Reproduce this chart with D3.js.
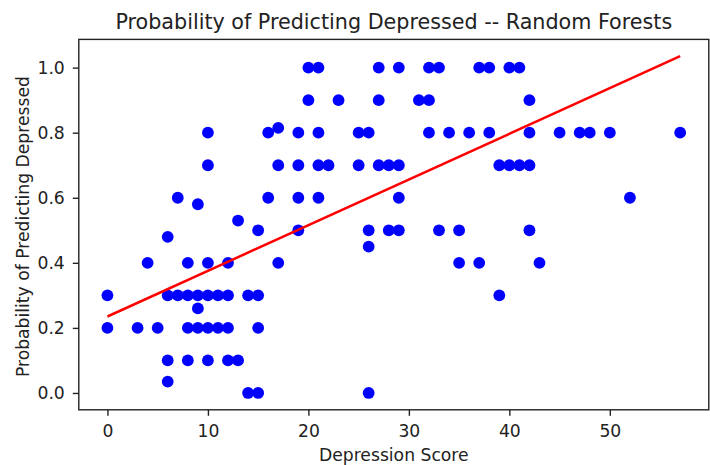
<!DOCTYPE html>
<html>
<head>
<meta charset="utf-8">
<script src="https://cdn.jsdelivr.net/npm/d3@7"></script>
<style>
  html, body { margin: 0; padding: 0; background: #fff; }
  svg { display: block; }
  text { font-family: "DejaVu Sans", sans-serif; fill: #222; }
</style>
</head>
<body>
<svg id="chart" width="710" height="465"></svg>
<script>
// Depression score of each respondent and the forest's predicted probability
const scores = [0,0,3,4,5,6,6,6,6,7,7,8,8,8,8,9,9,9,9,10,10,10,10,10,10,11,11,12,12,12,12,13,13,14,14,15,15,15,15,16,16,17,17,17,19,19,19,19,20,20,21,21,21,21,22,23,25,25,26,26,26,26,27,27,27,28,28,29,29,29,29,31,32,32,32,33,33,34,35,35,36,37,37,38,38,39,39,40,40,41,41,42,42,42,42,43,45,47,48,50,52,57];
const probs  = [0.3,0.2,0.2,0.4,0.2,0.48,0.3,0.1,0.035,0.6,0.3,0.4,0.3,0.2,0.1,0.58,0.3,0.26,0.2,0.8,0.7,0.4,0.3,0.2,0.1,0.3,0.2,0.4,0.3,0.2,0.1,0.53,0.1,0.3,0.0,0.5,0.3,0.2,0.0,0.8,0.6,0.815,0.7,0.4,0.8,0.7,0.6,0.5,1.0,0.9,1.0,0.8,0.7,0.6,0.7,0.9,0.8,0.7,0.8,0.5,0.45,0.0,1.0,0.9,0.7,0.7,0.5,1.0,0.7,0.6,0.5,0.9,1.0,0.9,0.8,1.0,0.5,0.8,0.5,0.4,0.8,1.0,0.4,1.0,0.8,0.7,0.3,1.0,0.7,1.0,0.7,0.9,0.8,0.7,0.5,0.4,0.8,0.8,0.8,0.8,0.6,0.8];

// Fitted trend line endpoints
const fitX = [0, 57];
const fitY = [0.235, 1.035];

// Tick labels
const xTicks = [0, 10, 20, 30, 40, 50];
const yTicks = [0.0, 0.2, 0.4, 0.6, 0.8, 1.0];

const titleText = "Probability of Predicting Depressed -- Random Forests";
const xLabel = "Depression Score";
const yLabel = "Probability of Predicting Depressed";

const svg = d3.select("#chart");
const plot = { left: 78.8, right: 708.8, top: 39.4, bottom: 409.8 };

// Axis limits with 5% padding around the data
const xAll = scores.concat(fitX), yAll = probs.concat(fitY);
const [xMin, xMax] = d3.extent(xAll), [yMin, yMax] = d3.extent(yAll);
const xPad = (xMax - xMin) * 0.05, yPad = (yMax - yMin) * 0.05;

const x = d3.scaleLinear().domain([xMin - xPad, xMax + xPad]).range([plot.left, plot.right]);
const y = d3.scaleLinear().domain([yMin - yPad, yMax + yPad]).range([plot.bottom, plot.top]);

// Points
svg.append("g")
  .selectAll("circle")
  .data(scores.map((s, i) => [s, probs[i]]))
  .join("circle")
  .attr("cx", d => x(d[0]))
  .attr("cy", d => y(d[1]))
  .attr("r", 5.9)
  .attr("fill", "#0000ff");

// Trend line
svg.append("path")
  .datum(fitX.map((v, i) => [v, fitY[i]]))
  .attr("fill", "none")
  .attr("stroke", "#ff0000")
  .attr("stroke-width", 2.5)
  .attr("d", d3.line().x(d => x(d[0])).y(d => y(d[1])));

// Axes
const tickFont = 17.2;
const xAxis = d3.axisBottom(x).tickValues(xTicks).tickFormat(d3.format("d")).tickSizeInner(6).tickSizeOuter(0).tickPadding(9);
const yAxis = d3.axisLeft(y).tickValues(yTicks).tickFormat(d3.format(".1f")).tickSizeInner(6).tickSizeOuter(0).tickPadding(8);

const gx = svg.append("g").attr("transform", `translate(0,${plot.bottom})`).call(xAxis);
const gy = svg.append("g").attr("transform", `translate(${plot.left},0)`).call(yAxis);
[gx, gy].forEach(g => {
  g.select(".domain").remove();
  g.selectAll(".tick line").attr("stroke", "#222").attr("stroke-width", 1.4);
  g.selectAll(".tick text").attr("font-size", tickFont).attr("font-family", "DejaVu Sans").attr("fill", "#222");
});

// Frame
svg.append("rect")
  .attr("x", plot.left).attr("y", plot.top)
  .attr("width", plot.right - plot.left).attr("height", plot.bottom - plot.top)
  .attr("fill", "none").attr("stroke", "#222").attr("stroke-width", 1.4);

// Title and axis labels
svg.append("text")
  .attr("x", (plot.left + plot.right) / 2).attr("y", 28.5)
  .attr("text-anchor", "middle").attr("font-size", 20.7)
  .text(titleText);

svg.append("text")
  .attr("x", (plot.left + plot.right) / 2).attr("y", 461)
  .attr("text-anchor", "middle").attr("font-size", 17.2)
  .text(xLabel);

svg.append("text")
  .attr("transform", `translate(28.5,${(plot.top + plot.bottom) / 2 + 2}) rotate(-90)`)
  .attr("text-anchor", "middle").attr("font-size", 17.2)
  .text(yLabel);
</script>
</body>
</html>
